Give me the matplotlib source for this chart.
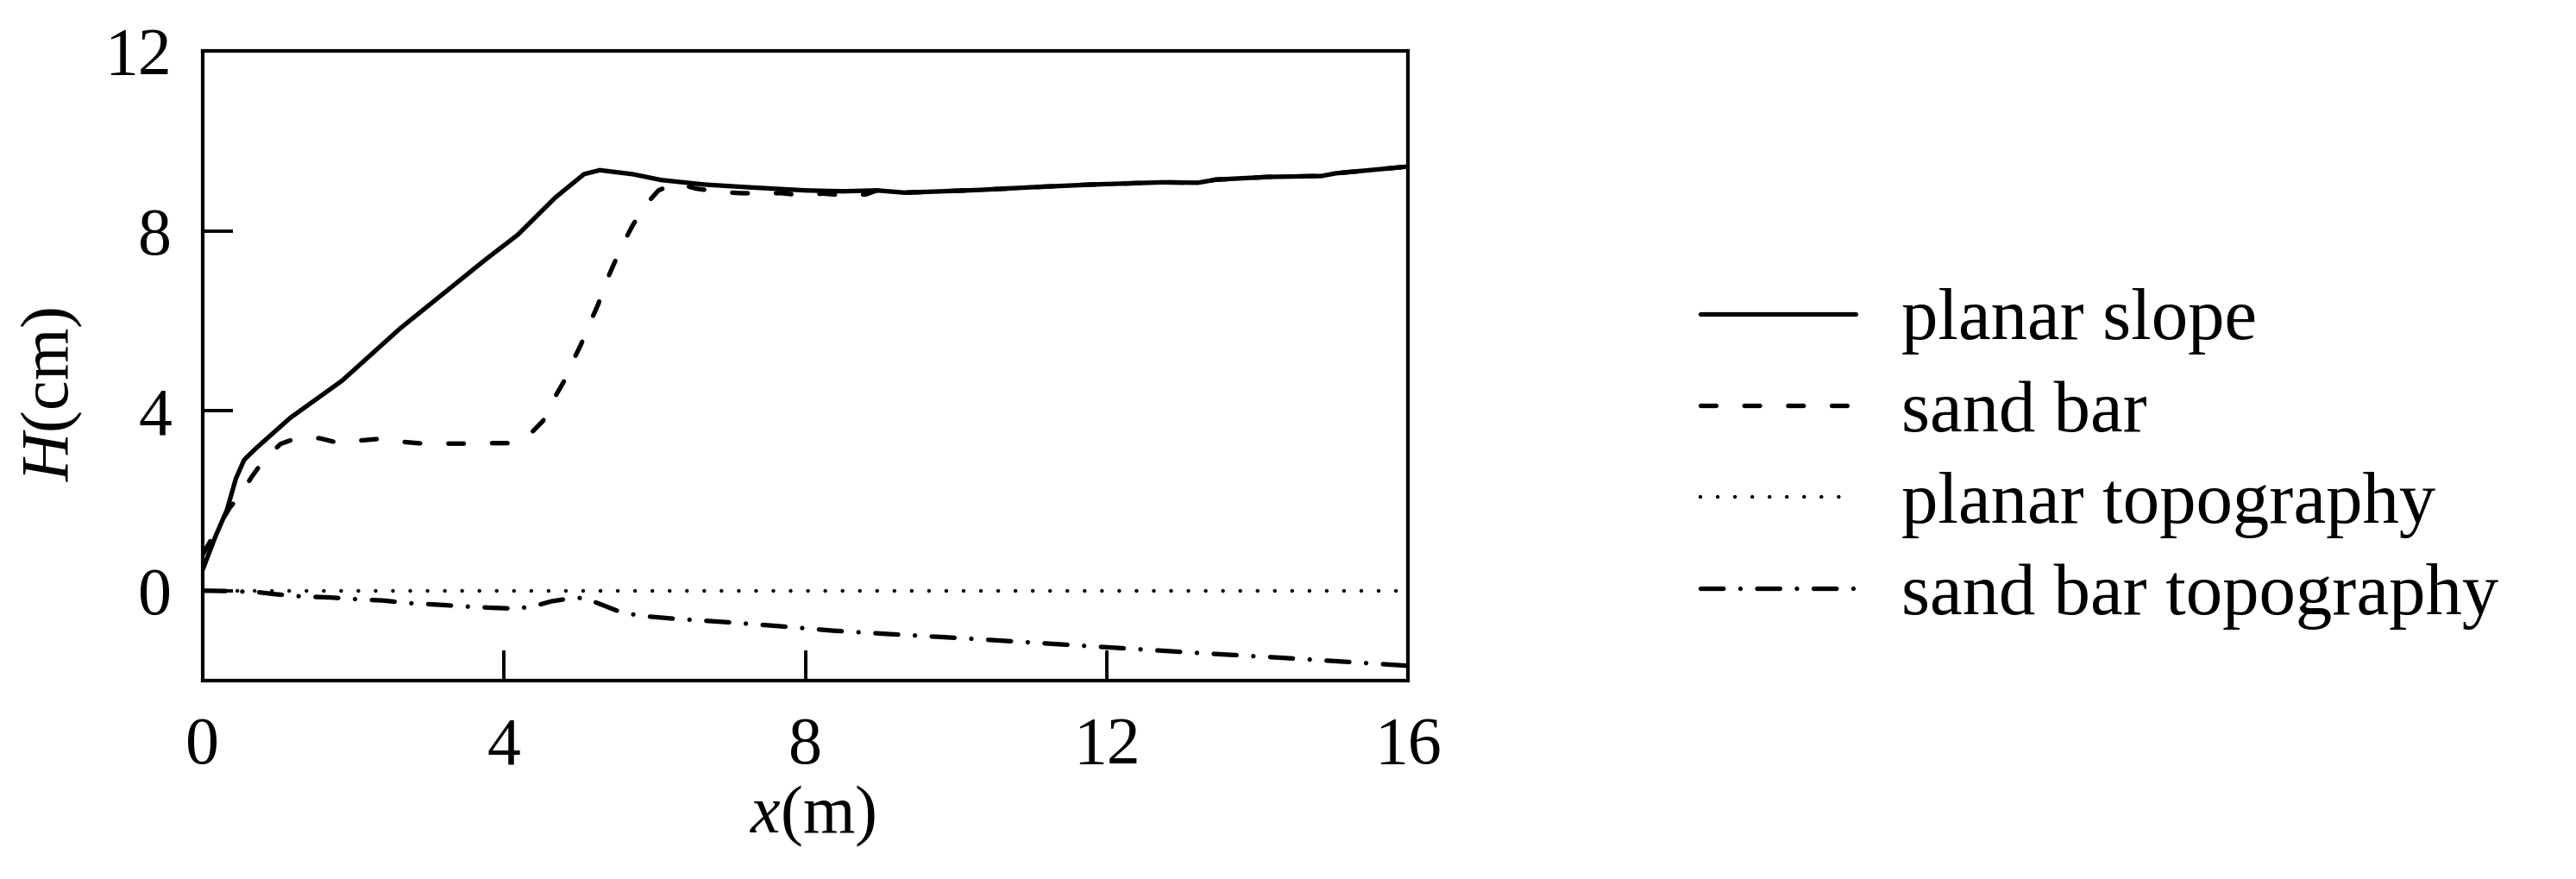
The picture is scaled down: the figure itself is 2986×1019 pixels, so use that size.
import matplotlib
matplotlib.use("Agg")
import matplotlib.pyplot as plt
import numpy as np

# wave height along the flume
x_planar = [0, 0.17, 0.32, 0.44, 0.55, 0.71, 1.16, 1.85, 2.62, 3.76, 4.18, 4.68, 5.06, 5.27,
            5.71, 6.09, 6.66, 7.24, 8.0, 8.5, 8.95, 9.32, 10.31, 11.0, 11.8, 12.74, 13.21,
            13.45, 14.15, 14.85, 15.04, 16.0]
H_planar = [0.47, 1.21, 1.79, 2.49, 2.91, 3.17, 3.84, 4.67, 5.83, 7.37, 7.91, 8.74, 9.26, 9.35,
            9.26, 9.13, 9.03, 8.97, 8.9, 8.88, 8.9, 8.85, 8.91, 8.97, 9.03, 9.08, 9.07,
            9.14, 9.2, 9.22, 9.28, 9.43]

x_bar = [0, 0.17, 0.36, 0.48, 0.65, 0.80, 1.03, 1.24, 1.55, 1.79, 2.10, 2.37, 2.65, 2.92,
         3.26, 3.55, 3.78, 4.05, 4.35, 4.52, 4.66, 4.79, 4.91, 5.02, 5.15, 5.25, 5.35, 5.46,
         5.59, 5.71, 5.88, 6.05, 6.28, 6.55, 6.85, 7.12, 7.41, 7.67, 7.96, 8.23, 8.53, 8.8,
         8.95, 9.32, 10.31, 11.0, 11.8, 12.74, 13.21, 13.45, 14.15, 14.85, 15.04, 16.0]
H_bar = [0.8, 1.31, 1.85, 2.08, 2.53, 2.88, 3.26, 3.39, 3.39, 3.29, 3.34, 3.38, 3.31, 3.27,
         3.27, 3.27, 3.28, 3.28, 3.49, 3.78, 4.26, 4.64, 5.09, 5.47, 5.99, 6.37, 6.85, 7.27,
         7.75, 8.13, 8.58, 8.9, 9.06, 8.94, 8.87, 8.84, 8.83, 8.84, 8.79, 8.83, 8.79, 8.81,
         8.9, 8.85, 8.91, 8.97, 9.03, 9.08, 9.07, 9.14, 9.2, 9.22, 9.28, 9.43]

# bottom profiles
x_topo_planar = [0, 16]
z_topo_planar = [0, 0]

x_topo_bar = [0, 0.35, 0.71, 0.97, 1.32, 1.68, 2.04, 2.4, 2.75, 3.11, 3.47, 3.83, 4.16, 4.39,
              4.62, 4.88, 5.06, 5.34, 5.55, 5.82, 6.23, 6.95, 7.66, 8.37, 9.06, 10.11, 11.16,
              12.21, 13.26, 14.3, 15.35, 16.0]
z_topo_bar = [0, -0.01, -0.03, -0.08, -0.13, -0.15, -0.19, -0.22, -0.28, -0.31, -0.35, -0.38,
              -0.40, -0.35, -0.24, -0.17, -0.16, -0.34, -0.48, -0.56, -0.62, -0.7, -0.79,
              -0.89, -0.96, -1.06, -1.17, -1.28, -1.39, -1.49, -1.6, -1.67]

labels = ["planar slope", "sand bar", "planar topography", "sand bar topography"]

plt.rcParams["font.family"] = ["Liberation Serif", "DejaVu Serif"]
plt.rcParams["mathtext.fontset"] = "custom"
plt.rcParams["mathtext.rm"] = "Liberation Serif"
plt.rcParams["mathtext.it"] = "Liberation Serif:italic"
fs = 28

fig = plt.figure(figsize=(14.93, 5.095), dpi=200)
ax = fig.add_axes([0.0787, 0.2257, 0.4679, 0.7163])

ax.plot(x_planar, H_planar, color="black", lw=1.9, solid_capstyle="round", label=labels[0])
ax.plot(x_bar, H_bar, color="black", lw=1.9, dashes=(3.4, 6.2),
        dash_capstyle="round", label=labels[1])
ax.plot(x_topo_planar, z_topo_planar, color="black", lw=1.6, dashes=(0.01, 4.5),
        dash_capstyle="round", label=labels[2])
ax.plot(x_topo_bar, z_topo_bar, color="black", lw=1.9, dashes=(5, 3.7, 0.01, 3.7),
        dash_capstyle="round", label=labels[3])

ax.set_xlim(0, 16)
ax.set_ylim(-2, 12)
ax.set_xticks([0, 4, 8, 12, 16])
ax.set_yticks([0, 4, 8, 12])
ax.tick_params(direction="in", length=12.6, width=1.4, labelsize=fs)
ax.tick_params(axis="x", pad=15)
ax.tick_params(axis="y", pad=13)
for s in ax.spines.values():
    s.set_linewidth(1.5)

ax.set_xlabel(r"$x$(m)", fontsize=fs)
ax.set_ylabel(r"$H$(cm)", fontsize=fs)
ax.xaxis.set_label_coords(0.506, -0.215)
ax.xaxis.label.set_va("center")
ax.yaxis.set_label_coords(-0.125, 0.455)
ax.yaxis.label.set_va("center")

lfs = 30.5
fig.legend(loc="center left", bbox_to_anchor=(0.66, 0.478), frameon=False, fontsize=lfs,
           handlelength=2.13, handletextpad=0.62, labelspacing=0.34, borderpad=0,
           borderaxespad=0)

fig.savefig("out.png", dpi=200)
